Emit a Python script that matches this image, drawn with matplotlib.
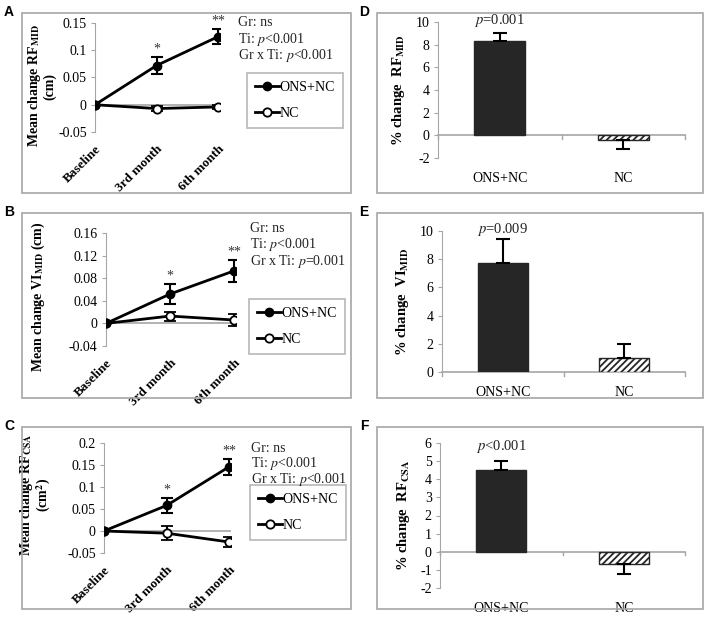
import matplotlib
matplotlib.use('Agg')
import numpy as np
import matplotlib.pyplot as plt
from matplotlib.patches import Rectangle
from matplotlib.lines import Line2D

plt.rcParams['font.family'] = ['Liberation Serif', 'DejaVu Serif']
plt.rcParams['mathtext.fontset'] = 'stix'
plt.rcParams['hatch.linewidth'] = 1.3

W, H = 708, 625
GRAY = '#a6a6a6'

### data
months = ['Baseline', '3rd month', '6th month']

a_ons = [0, 0.072, 0.125]
a_ons_err = [0, 0.016, 0.014]
a_nc = [0, -0.007, -0.004]
a_nc_err = [0, 0.004, 0.004]

b_ons = [0, 0.052, 0.093]
b_ons_err = [0, 0.017, 0.019]
b_nc = [0, 0.013, 0.006]
b_nc_err = [0, 0.008, 0.011]

c_ons = [0, 0.058, 0.146]
c_ons_err = [0, 0.018, 0.018]
c_nc = [0, -0.005, -0.025]
c_nc_err = [0, 0.016, 0.012]

groups = ['ONS+NC', 'NC']
d_pct = [8.3, -0.45]
d_err = [0.7, 0.8]
e_pct = [7.75, 1.0]
e_err = [1.7, 1.0]
f_pct = [4.5, -0.7]
f_err = [0.5, 0.55]


def rect(x0, y0, x1, y1):
    # pixel box (top-left origin) -> figure fraction
    return [x0 / W, 1 - y1 / H, (x1 - x0) / W, (y1 - y0) / H]


def frame(fig, x0, y0, x1, y1, letter):
    fig.add_artist(Rectangle((x0 / W, 1 - y1 / H), (x1 - x0) / W, (y1 - y0) / H,
                             transform=fig.transFigure, fill=False,
                             edgecolor=GRAY, lw=1.2))
    fig.text((x0 - 13) / W, 1 - (y0 - 1) / H, letter, family='Liberation Sans',
             fontweight='bold', fontsize=10, ha='center', va='center')


def style_axis(ax):
    for s in ['top', 'right', 'bottom']:
        ax.spines[s].set_visible(False)
    ax.spines['left'].set_color(GRAY)
    ax.tick_params(axis='y', direction='out', length=3, color=GRAY,
                   labelsize=10, pad=3)


def line_panel(fig, box, ylim, yticks, fmt, ons, ons_err, nc, nc_err,
               ylabel, label_px, stats, stats_x, stats_y, leg_xy):
    ax = fig.add_axes(rect(*box))
    x = np.arange(len(months))
    style_axis(ax)
    ax.axhline(0, color=GRAY, lw=1.2, zorder=1)
    ax.errorbar(x, nc, yerr=nc_err, fmt='-o', color='black', lw=2,
                mfc='white', mec='black', mew=1.3, ms=6, capsize=4,
                elinewidth=1.5, capthick=1.5, zorder=3)
    ax.errorbar(x, ons, yerr=ons_err, fmt='-o', color='black', lw=2,
                mfc='black', ms=6, capsize=4, elinewidth=1.5, capthick=1.5,
                zorder=4)
    ax.set_xlim(0, 2.03)
    ax.set_ylim(*ylim)
    ax.set_yticks(yticks)
    ax.set_yticklabels([fmt(v) for v in yticks])
    ax.set_xticks(x)
    ax.set_xticklabels(months, rotation=45, ha='right', rotation_mode='anchor',
                       fontweight='bold', fontsize=9.5)
    ax.tick_params(axis='x', length=0, pad=8)
    for i, star in [(1, '*'), (2, '**')]:
        ax.annotate(star, (x[i], ons[i] + ons_err[i]), xytext=(0, 1),
                    textcoords='offset points', ha='center', va='bottom',
                    fontsize=10, color='#333333')
    ax.set_ylabel(ylabel, fontweight='bold', fontsize=10, linespacing=1.0)
    # label anchor: right edge of the label block and its vertical centre, in pixels
    lx = (label_px[0] - box[0]) / (box[2] - box[0])
    ly = (box[3] - label_px[1]) / (box[3] - box[1])
    ax.yaxis.set_label_coords(lx, ly)
    for line, yy in zip(stats, stats_y):
        fig.text(stats_x / W, 1 - yy / H, line, fontsize=10,
                 va='center', ha='left', color='#222222')
    handles = [Line2D([0], [0], color='black', lw=2, marker='o', ms=6,
                      mfc='black', mec='black'),
               Line2D([0], [0], color='black', lw=2, marker='o', ms=6,
                      mfc='white', mec='black', mew=1.3)]
    leg = ax.legend(handles, ['ONS+NC', 'NC'], loc='upper left',
                    bbox_to_anchor=(leg_xy[0] / W, 1 - leg_xy[1] / H),
                    bbox_transform=fig.transFigure, frameon=True,
                    fancybox=False, edgecolor=GRAY, fontsize=10,
                    handlelength=1.7, handletextpad=0.05, borderpad=0.6,
                    labelspacing=0.9, borderaxespad=0)
    leg.get_frame().set_linewidth(1.2)
    return ax


def bar_panel(fig, box, ylim, yticks, vals, errs, ylabel, ptext, py):
    ax = fig.add_axes(rect(*box))
    style_axis(ax)
    x = np.array([0.5, 1.5])
    ax.bar(x[0], vals[0], width=0.41, color='#262626', edgecolor='#262626', zorder=2)
    ax.bar(x[1], vals[1], width=0.41, color='white', edgecolor='#262626',
           hatch='/////', lw=1, zorder=2)
    lo = [e if v < 0 else 0 for v, e in zip(vals, errs)]
    hi = [e if v >= 0 else 0 for v, e in zip(vals, errs)]
    ax.errorbar(x, vals, yerr=[lo, hi], fmt='none', ecolor='black',
                elinewidth=1.5, capsize=5, capthick=1.5, zorder=3)
    ax.plot([0, 2], [0, 0], color=GRAY, lw=1.2, zorder=1, clip_on=False)
    for xt in [0, 1, 2]:
        ax.plot([xt, xt], [0, -(ylim[1] - ylim[0]) * 0.025], color=GRAY,
                lw=1, clip_on=False)
    ax.set_xlim(0, 2)
    ax.set_ylim(*ylim)
    ax.set_yticks(yticks)
    ax.set_yticklabels([str(v) for v in yticks])
    ax.set_xticks(x)
    ax.set_xticklabels(groups, fontsize=10)
    ax.tick_params(axis='x', length=0, pad=10)
    ax.set_ylabel(ylabel, fontweight='bold', fontsize=10.5, labelpad=6)
    ax.text(x[0], py, ptext, ha='center', va='center', fontsize=10.5,
            color='#222222')
    return ax


fig = plt.figure(figsize=(W / 100, H / 100), dpi=100)

frame(fig, 22, 13, 351, 193, 'A')
frame(fig, 22, 213, 351, 398, 'B')
frame(fig, 22, 427, 351, 609, 'C')
frame(fig, 377, 13, 703, 193, 'D')
frame(fig, 377, 213, 703, 398, 'E')
frame(fig, 377, 427, 703, 609, 'F')

f2 = lambda v: '0' if v == 0 else ('%g' % v)
f3 = lambda v: '0' if v == 0 else ('%.2f' % v)

line_panel(fig, (95, 23, 220, 132), (-0.05, 0.15),
           [-0.05, 0, 0.05, 0.1, 0.15], f2, a_ons, a_ons_err, a_nc, a_nc_err,
           'Mean change RF$_{\\mathbf{MID}}$\n(cm)', (56, 86),
           ['Gr: ns', 'Ti: $\\mathit{p}$<0.001', 'Gr x Ti: $\\mathit{p}$<0.001'],
           238, (23, 39, 55), (247, 73))

line_panel(fig, (106, 233, 236, 346), (-0.04, 0.16),
           [-0.04, 0, 0.04, 0.08, 0.12, 0.16], f3, b_ons, b_ons_err, b_nc, b_nc_err,
           'Mean change VI$_{\\mathbf{MID}}$ (cm)', (47, 297),
           ['Gr: ns', 'Ti: $\\mathit{p}$<0.001', 'Gr x Ti: $\\mathit{p}$=0.001'],
           250, (228, 244, 261), (249, 299))

line_panel(fig, (104, 443, 231, 553), (-0.05, 0.2),
           [-0.05, 0, 0.05, 0.1, 0.15, 0.2], f2, c_ons, c_ons_err, c_nc, c_nc_err,
           'Mean change RF$_{\\mathbf{CSA}}$\n(cm$^\\mathbf{2}$)', (53, 495),
           ['Gr: ns', 'Ti: $\\mathit{p}$<0.001', 'Gr x Ti: $\\mathit{p}$<0.001'],
           251, (448, 464, 480), (250, 485))

bar_panel(fig, (438, 22, 685, 158), (-2, 10), [-2, 0, 2, 4, 6, 8, 10],
          d_pct, d_err, '% change  RF$_{\\mathbf{MID}}$', '$\\mathit{p}$=0.001', 10.15)
bar_panel(fig, (442, 231, 685, 372), (0, 10), [0, 2, 4, 6, 8, 10],
          e_pct, e_err, '% change  VI$_{\\mathbf{MID}}$', '$\\mathit{p}$=0.009', 10.1)
bar_panel(fig, (440, 443, 685, 588), (-2, 6), [-2, -1, 0, 1, 2, 3, 4, 5, 6],
          f_pct, f_err, '% change  RF$_{\\mathbf{CSA}}$', '$\\mathit{p}$<0.001', 5.8)

fig.savefig('out.png', dpi=100)
